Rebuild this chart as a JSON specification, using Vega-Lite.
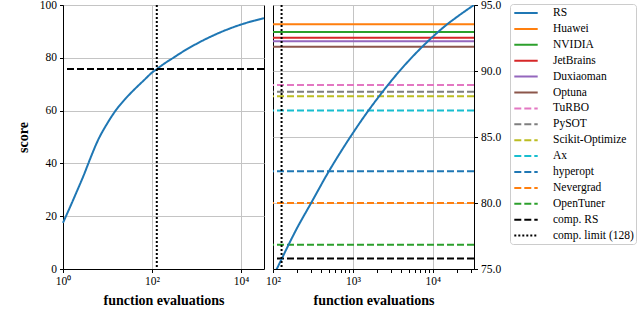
{
  "$schema": "https://vega.github.io/schema/vega-lite/v6.json",
  "background": "white",
  "padding": {"left": 15, "top": -2, "right": 5, "bottom": 5},
  "datasets": {
    "rs": [
      {"name": "RS", "n": 1, "score": 17.5},
      {"name": "RS", "n": 1.4, "score": 23},
      {"name": "RS", "n": 2, "score": 29},
      {"name": "RS", "n": 3, "score": 36},
      {"name": "RS", "n": 4, "score": 41.4},
      {"name": "RS", "n": 6, "score": 48.5},
      {"name": "RS", "n": 10, "score": 55.3},
      {"name": "RS", "n": 16, "score": 60.5},
      {"name": "RS", "n": 25, "score": 64.4},
      {"name": "RS", "n": 40, "score": 68.0},
      {"name": "RS", "n": 64, "score": 71.3},
      {"name": "RS", "n": 100, "score": 74.4},
      {"name": "RS", "n": 128, "score": 75.75},
      {"name": "RS", "n": 200, "score": 78.1},
      {"name": "RS", "n": 300, "score": 80.0},
      {"name": "RS", "n": 500, "score": 82.4},
      {"name": "RS", "n": 700, "score": 83.85},
      {"name": "RS", "n": 1000, "score": 85.3},
      {"name": "RS", "n": 1500, "score": 86.85},
      {"name": "RS", "n": 2000, "score": 87.87},
      {"name": "RS", "n": 3000, "score": 89.23},
      {"name": "RS", "n": 5000, "score": 90.78},
      {"name": "RS", "n": 7000, "score": 91.7},
      {"name": "RS", "n": 10000, "score": 92.6},
      {"name": "RS", "n": 15000, "score": 93.52},
      {"name": "RS", "n": 20000, "score": 94.09},
      {"name": "RS", "n": 32768, "score": 95}
    ],
    "refs": [
      {"name": "Huawei", "score": 93.54},
      {"name": "NVIDIA", "score": 92.95},
      {"name": "JetBrains", "score": 92.52},
      {"name": "Duxiaoman", "score": 92.25},
      {"name": "Optuna", "score": 91.84},
      {"name": "TuRBO", "score": 88.94},
      {"name": "PySOT", "score": 88.43},
      {"name": "Scikit-Optimize", "score": 88.08},
      {"name": "Ax", "score": 87.0},
      {"name": "hyperopt", "score": 82.4},
      {"name": "Nevergrad", "score": 80.0},
      {"name": "OpenTuner", "score": 76.84},
      {"name": "comp. RS", "score": 75.8}
    ],
    "limit": [
      {"name": "comp. limit (128)", "n": 128}
    ]
  },
  "config": {
    "font": "Liberation Serif",
    "view": {"stroke": "black", "strokeWidth": 1},
    "axis": {
      "labelFont": "Liberation Serif",
      "labelFontSize": 11.5,
      "labelColor": "black",
      "titleFont": "Liberation Serif",
      "titleFontSize": 14,
      "titleFontWeight": "bold",
      "titleColor": "black",
      "domainColor": "black",
      "tickColor": "black",
      "tickSize": 3.5,
      "gridColor": "#c4c4c4",
      "gridWidth": 1,
      "labelPadding": 3,
      "labelOverlap": false,
      "labelFlush": false
    },
    "legend": {
      "title": null,
      "titlePadding": 0,
      "orient": "none",
      "legendX": 447,
      "legendY": -1,
      "labelFont": "Liberation Serif",
      "labelFontSize": 11.5,
      "labelColor": "black",
      "padding": 2,
      "strokeColor": "#cccccc",
      "fillColor": "white",
      "cornerRadius": 3,
      "symbolType": "M-1.95,0H1.95",
      "symbolSize": 144,
      "symbolStrokeWidth": 2,
      "symbolOffset": 7,
      "labelOffset": 20,
      "rowPadding": 2.9
    }
  },
  "hconcat": [
    {
      "width": 201,
      "height": 264,
      "layer": [
        {
          "data": {"name": "rs"},
          "mark": {"type": "line", "strokeWidth": 2, "interpolate": "monotone"},
          "encoding": {
            "x": {
              "field": "n", "type": "quantitative",
              "scale": {"type": "log", "domain": [1, 32768], "nice": false},
              "axis": {
                "values": [1, 100, 10000],
                "labelExpr": "datum.value == 1 ? '10⁰' : datum.value == 100 ? '10²' : '10⁴'",
                "grid": true,
                "titlePadding": 6
              },
              "title": "function evaluations"
            },
            "y": {
              "field": "score", "type": "quantitative",
              "scale": {"domain": [0, 100], "nice": false},
              "axis": {"values": [0, 20, 40, 60, 80, 100], "grid": true, "titlePadding": 9},
              "title": "score"
            },
            "color": {
              "field": "name", "type": "nominal", "title": null,
              "legend": {"title": null, "orient": "none", "legendX": 447, "legendY": -1},
              "scale": {
                "domain": ["RS", "Huawei", "NVIDIA", "JetBrains", "Duxiaoman", "Optuna", "TuRBO", "PySOT", "Scikit-Optimize", "Ax", "hyperopt", "Nevergrad", "OpenTuner", "comp. RS", "comp. limit (128)"],
                "range": ["#1f77b4", "#ff7f0e", "#2ca02c", "#d62728", "#9467bd", "#8c564b", "#e377c2", "#7f7f7f", "#bcbd22", "#17becf", "#1f77b4", "#ff7f0e", "#2ca02c", "#000000", "#000000"]
              }
            },
            "strokeDash": {
              "field": "name", "type": "nominal", "title": null,
              "legend": {"title": null, "orient": "none", "legendX": 447, "legendY": -1},
              "scale": {
                "domain": ["RS", "Huawei", "NVIDIA", "JetBrains", "Duxiaoman", "Optuna", "TuRBO", "PySOT", "Scikit-Optimize", "Ax", "hyperopt", "Nevergrad", "OpenTuner", "comp. RS", "comp. limit (128)"],
                "range": [[1, 0], [1, 0], [1, 0], [1, 0], [1, 0], [1, 0], [7, 3], [7, 3], [7, 3], [7, 3], [7, 3], [7, 3], [7, 3], [7, 3], [2, 2]]
              }
            }
          }
        },
        {
          "data": {"name": "refs"},
          "transform": [{"filter": "datum.name == 'comp. RS'"}],
          "mark": {"type": "rule", "strokeWidth": 2},
          "encoding": {
            "y": {"field": "score", "type": "quantitative"},
            "color": {"field": "name", "type": "nominal", "title": null},
            "strokeDash": {"field": "name", "type": "nominal", "title": null}
          }
        },
        {
          "data": {"name": "limit"},
          "mark": {"type": "rule", "strokeWidth": 2},
          "encoding": {
            "x": {"field": "n", "type": "quantitative"},
            "color": {"field": "name", "type": "nominal", "title": null},
            "strokeDash": {"field": "name", "type": "nominal", "title": null}
          }
        }
      ]
    },
    {
      "width": 201,
      "height": 264,
      "layer": [
        {
          "data": {"name": "refs"},
          "mark": {"type": "rule", "strokeWidth": 2},
          "encoding": {
            "y": {
              "field": "score", "type": "quantitative",
              "scale": {"domain": [75, 95], "nice": false},
              "axis": {
                "orient": "right",
                "values": [75, 77.5, 80, 82.5, 85, 87.5, 90, 92.5, 95],
                "format": ".1f",
                "grid": true
              },
              "title": null
            },
            "color": {"field": "name", "type": "nominal", "title": null},
            "strokeDash": {"field": "name", "type": "nominal", "title": null}
          }
        },
        {
          "data": {"name": "rs"},
          "transform": [{"filter": "datum.n >= 100"}],
          "mark": {"type": "line", "strokeWidth": 2, "interpolate": "monotone", "clip": true},
          "encoding": {
            "x": {
              "field": "n", "type": "quantitative",
              "scale": {"type": "log", "domain": [100, 32768], "nice": false},
              "axis": {
                "values": [100, 200, 300, 400, 500, 600, 700, 800, 900, 1000, 2000, 3000, 4000, 5000, 6000, 7000, 8000, 9000, 10000, 20000, 30000],
                "labelExpr": "datum.value == 100 ? '10²' : datum.value == 1000 ? '10³' : datum.value == 10000 ? '10⁴' : ''",
                "grid": true,
                "gridOpacity": {"condition": {"test": "datum.value == 1000 || datum.value == 10000", "value": 1}, "value": 0},
                "encode": {"ticks": {"update": {"y2": {"signal": "datum.value == 100 || datum.value == 1000 || datum.value == 10000 ? 3.5 : 2"}}}},
                "titlePadding": 6
              },
              "title": "function evaluations"
            },
            "y": {"field": "score", "type": "quantitative"},
            "color": {"field": "name", "type": "nominal", "title": null},
            "strokeDash": {"field": "name", "type": "nominal", "title": null}
          }
        },
        {
          "data": {"name": "limit"},
          "mark": {"type": "rule", "strokeWidth": 2},
          "encoding": {
            "x": {"field": "n", "type": "quantitative"},
            "color": {"field": "name", "type": "nominal", "title": null},
            "strokeDash": {"field": "name", "type": "nominal", "title": null}
          }
        }
      ]
    }
  ],
  "spacing": 9,
  "bounds": "flush",
  "resolve": {"scale": {"color": "shared", "strokeDash": "shared"}}
}
